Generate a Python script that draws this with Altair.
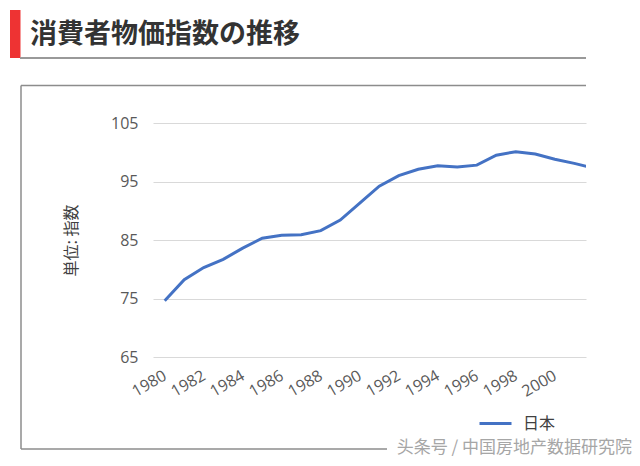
import altair as alt
import pandas as pd

TITLE = "消費者物価指数の推移"
Y_TITLE = "単位: 指数"
SERIES = "日本"
WATERMARK = "头条号 / 中国房地产数据研究院"

years = list(range(1980, 2003))
cpi = [74.6, 78.2, 80.3, 81.7, 83.6, 85.3, 85.8, 85.9, 86.6, 88.4, 91.3, 94.2,
       96.0, 97.1, 97.7, 97.5, 97.8, 99.5, 100.1, 99.7, 98.8, 98.1, 97.3]
x_ticks = list(range(1980, 2001, 2))
y_ticks = [65, 75, 85, 95, 105]

JP = "Noto Sans CJK JP"
NUM = "Open Sans"

df = pd.DataFrame({"year": years, "cpi": cpi, "series": [SERIES] * len(years)})
one = pd.DataFrame({"t": [TITLE], "w": [WATERMARK]})

line = alt.Chart(df).mark_line(clip=True, strokeWidth=3).encode(
    x=alt.X("year:Q",
            scale=alt.Scale(domain=[1979.4, 2001.6], nice=False, zero=False),
            axis=alt.Axis(values=x_ticks, format="d", grid=False, ticks=False, domain=False,
                          labelAngle=-30, labelAlign="right", labelBaseline="middle",
                          labelPadding=17, labelFont=NUM, labelFontSize=16,
                          labelColor="#595959", title=None, labelOverlap=False)),
    y=alt.Y("cpi:Q",
            scale=alt.Scale(domain=[65, 105], nice=False, zero=False),
            axis=alt.Axis(values=y_ticks, grid=True, gridColor="#d9d9d9", gridWidth=1,
                          ticks=False, domain=False, labelPadding=15, labelFont=NUM,
                          labelFontSize=16, labelColor="#595959",
                          title=Y_TITLE, titleFont=JP, titleFontSize=16,
                          titleFontWeight="normal", titleColor="#404040", titlePadding=31)),
    color=alt.Color("series:N",
                    scale=alt.Scale(domain=[SERIES], range=["#4472C4"]),
                    legend=alt.Legend(title=None, orient="none", legendX=325, legendY=283,
                                      symbolType="stroke", symbolSize=1024,
                                      symbolStrokeWidth=3, labelFont=JP, labelFontSize=16,
                                      labelColor="#404040", labelOffset=10, padding=0)),
)

# decorations (page coords minus plot origin 153,123)
red_bar = alt.Chart(one).mark_rect(color="#ee3333").encode(
    x=alt.value(-143), x2=alt.value(-132.5), y=alt.value(-113), y2=alt.value(-65))
underline = alt.Chart(one).mark_rule(color="#999999", strokeWidth=2).encode(
    x=alt.value(-133), x2=alt.value(433), y=alt.value(-65))
frame_top = alt.Chart(one).mark_rule(color="#8c8c8c", strokeWidth=1.5).encode(
    x=alt.value(-132), x2=alt.value(433), y=alt.value(-37.5))
frame_left = alt.Chart(one).mark_rule(color="#8c8c8c", strokeWidth=1.5).encode(
    x=alt.value(-132), y=alt.value(-37.5), y2=alt.value(326))
frame_bottom = alt.Chart(one).mark_rule(color="#8c8c8c", strokeWidth=1.5).encode(
    x=alt.value(-132), x2=alt.value(234), y=alt.value(326))

title = alt.Chart(one).mark_text(font=JP, fontSize=27, fontWeight="bold", color="#333333",
                                 align="left", baseline="alphabetic").encode(
    x=alt.value(-123), y=alt.value(-80), text="t:N")
watermark = alt.Chart(one).mark_text(font=JP, fontSize=17, color="#a6a6a6",
                                     align="right", baseline="middle").encode(
    x=alt.value(479), y=alt.value(325), text="w:N")

chart = alt.layer(red_bar, underline, frame_top, frame_left, frame_bottom, title,
                  line, watermark).properties(
    width=433, height=234,
    autosize=alt.AutoSizeParams(type="none"),
    padding={"left": 145, "top": 115, "right": 46, "bottom": 101},
    background="white",
).configure_view(stroke=None)

chart.save("out.html", embed_options={"renderer": "svg", "actions": False})
